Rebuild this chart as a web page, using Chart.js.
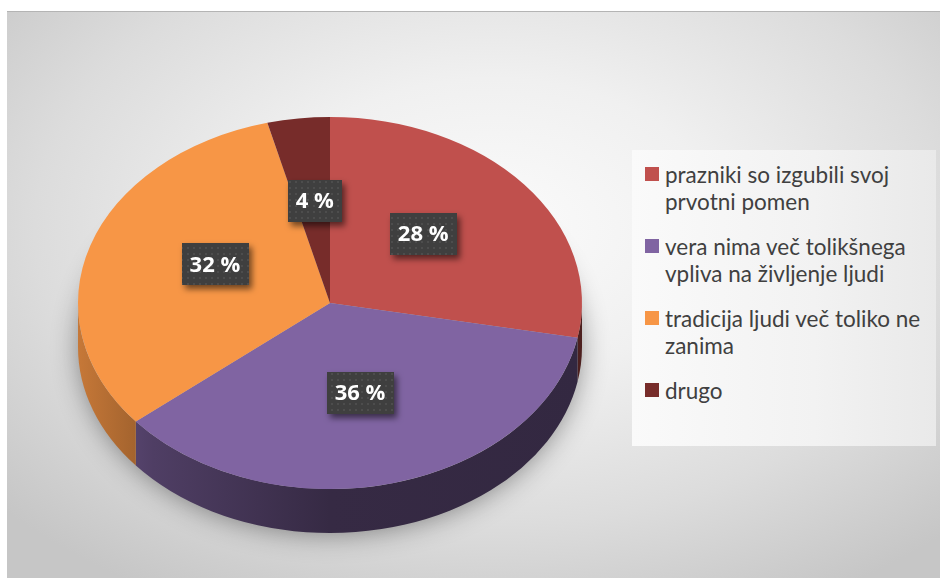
<!DOCTYPE html>
<html>
<head>
<meta charset="utf-8">
<script src="https://cdn.jsdelivr.net/npm/chart.js@4"></script>
<style>
  html, body { margin: 0; padding: 0; background: #fff; }
  #wrap { position: relative; width: 940px; height: 578px; overflow: hidden; }
  #bg {
    position: absolute; left: 7px; top: 11px; width: 933px; height: 567px;
    border-top: 1px solid #b4b4b4;
    background: radial-gradient(ellipse 70% 75% at 52% 38%, #fbfbfb 0%, #f0f0f0 35%, #dcdcdc 70%, #c6c6c6 100%);
  }
  #pie { position: absolute; left: 0; top: 0; }
  #legend {
    position: absolute; left: 632px; top: 150px; width: 304px; height: 296px;
    box-sizing: border-box; padding: 11px 0 0 13px;
    background: linear-gradient(to right, #fafafa, #f2f2f2 60%, #e9e9e9);
    font-family: Lato, "Open Sans", sans-serif; font-size: 22.5px; line-height: 27px; color: #404040;
  }
  .item { position: relative; padding-left: 20px; margin-bottom: 18px; white-space: nowrap; }
  .item i { position: absolute; left: 0; top: 6px; width: 14px; height: 14px; }
</style>
</head>
<body>
<div id="wrap">
  <div id="bg"></div>
  <canvas id="pie" width="940" height="578"></canvas>
  <div id="legend"></div>
</div>
<script>
const labels = [
  ["prazniki so izgubili svoj", "prvotni pomen"],
  ["vera nima več tolikšnega", "vpliva na življenje ljudi"],
  ["tradicija ljudi več toliko ne", "zanima"],
  ["drugo"]
];
const values = [28, 36, 32, 4];
const colors = ["#C0504D", "#8064A2", "#F79646", "#772C2A"];

// pie geometry on screen
const CX = 330, CY = 303, R = 252, K = 186 / 252, DEPTH = 44;
const AREA_TOP = 30; // chart area top in unscaled space
const CY0 = AREA_TOP + R;

function shade(hex, f) {
  const n = parseInt(hex.slice(1), 16);
  const r = Math.round(((n >> 16) & 255) * f), g = Math.round(((n >> 8) & 255) * f), b = Math.round((n & 255) * f);
  return `rgb(${r},${g},${b})`;
}

// dotted pattern for the label boxes
const pc = document.createElement("canvas");
pc.width = 6; pc.height = 6;
const pctx = pc.getContext("2d");
pctx.fillStyle = "#3f3f3f"; pctx.fillRect(0, 0, 6, 6);
pctx.fillStyle = "#4d4d4d"; pctx.fillRect(1, 1, 2, 2);

const tilt = {
  id: "tilt",
  beforeDatasetsDraw(chart) {
    const ctx = chart.ctx;
    const arcs = chart.getDatasetMeta(0).data;
    // soft shadow under the pie
    ctx.save();
    ctx.shadowColor = "rgba(0,0,0,0.45)";
    ctx.shadowBlur = 28;
    ctx.shadowOffsetY = 4;
    ctx.fillStyle = "#bbb";
    ctx.beginPath();
    ctx.ellipse(CX, CY + DEPTH - 4, R - 2, R * K, 0, 0, Math.PI * 2);
    ctx.fill();
    ctx.restore();
    // side walls of the visible front half
    arcs.forEach((arc, i) => {
      let a = Math.max(arc.startAngle, 0), b = Math.min(arc.endAngle, Math.PI);
      if (b <= a) return;
      const grad = ctx.createLinearGradient(CX - R, 0, CX + R, 0);
      grad.addColorStop(0, shade(colors[i], 0.8));
      grad.addColorStop(0.15, shade(colors[i], 0.62));
      grad.addColorStop(0.5, shade(colors[i], 0.42));
      grad.addColorStop(1, shade(colors[i], 0.4));
      ctx.save();
      ctx.fillStyle = grad;
      ctx.beginPath();
      ctx.ellipse(CX, CY, R, R * K, 0, a, b);
      ctx.lineTo(CX + R * Math.cos(b), CY + R * K * Math.sin(b) + DEPTH);
      ctx.ellipse(CX, CY + DEPTH, R, R * K, 0, b, a, true);
      ctx.closePath();
      ctx.fill();
      ctx.restore();
    });
    // squash the flat pie into an ellipse
    ctx.save();
    ctx.translate(CX, CY);
    ctx.scale(1, K);
    ctx.translate(-CX, -CY0);
  },
  afterDatasetsDraw(chart) {
    const ctx = chart.ctx;
    ctx.restore();
    const arcs = chart.getDatasetMeta(0).data;
    ctx.save();
    ctx.font = "bold 22px 'Open Sans'";
    ctx.textAlign = "center";
    ctx.textBaseline = "middle";
    arcs.forEach((arc, i) => {
      const mid = (arc.startAngle + arc.endAngle) / 2;
      const x = CX + 0.48 * R * Math.cos(mid);
      const y = CY + 0.5 * R * K * Math.sin(mid) - (Math.sin(mid) < 0.5 ? 10 : 0);
      const txt = values[i] + " %";
      const w = ctx.measureText(txt).width + 16, h = 42;
      ctx.save();
      ctx.shadowColor = "rgba(0,0,0,0.55)";
      ctx.shadowBlur = 6;
      ctx.shadowOffsetX = 3;
      ctx.shadowOffsetY = 4;
      ctx.fillStyle = ctx.createPattern(pc, "repeat");
      ctx.fillRect(Math.round(x - w / 2), Math.round(y - h / 2), Math.round(w), h);
      ctx.restore();
      ctx.fillStyle = "#fff";
      ctx.fillText(txt, x, y + 1);
    });
    ctx.restore();
  }
};

new Chart(document.querySelector("#pie"), {
  type: "pie",
  data: {
    labels: labels,
    datasets: [{
      data: values,
      backgroundColor: colors,
      borderWidth: 0,
    }],
  },
  options: {
    responsive: false,
    animation: false,
    devicePixelRatio: 1,
    layout: { padding: { left: CX - R, right: 940 - CX - R, top: AREA_TOP, bottom: 578 - AREA_TOP - 2 * R } },
    plugins: { legend: { display: false }, tooltip: { enabled: false } },
  },
  plugins: [tilt],
});

// legend
const lg = document.querySelector("#legend");
labels.forEach((lines, i) => {
  const d = document.createElement("div");
  d.className = "item";
  const sw = document.createElement("i");
  sw.style.background = colors[i];
  d.appendChild(sw);
  lines.forEach((ln, j) => {
    if (j) d.appendChild(document.createElement("br"));
    d.appendChild(document.createTextNode(ln));
  });
  lg.appendChild(d);
});
</script>
</body>
</html>
